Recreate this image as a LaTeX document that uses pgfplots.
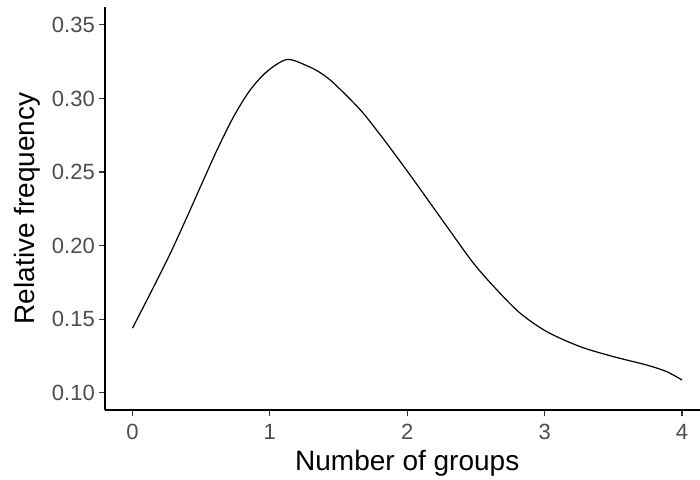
\documentclass[border=0pt]{standalone}
\usepackage{pgfplots}
\pgfplotsset{compat=1.18}
\usepackage{fontspec}
\setmainfont{Liberation Sans}
\definecolor{ticktext}{HTML}{4D4D4D}
\definecolor{tickcol}{HTML}{333333}
\begin{document}
\begin{tikzpicture}
\begin{axis}[
    name=ax, at={(0,0)}, anchor=south west,
    scale only axis,
    width=604.5pt, height=403.3pt,
    xmin=-0.2, xmax=4.2,
    ymin=0.0882, ymax=0.3624,
    axis x line*=bottom, axis y line*=left,
    axis line style={black, line width=1.3pt},
    xtick={0,1,2,3,4},
    ytick={0.10,0.15,0.20,0.25,0.30,0.35},
    tick align=outside, major tick length=6pt,
    tick style={tickcol, line width=1.1pt},
    ticklabel style={font=\fontsize{22}{26}\selectfont, text=ticktext, inner sep=0pt},
    /pgf/number format/assume math mode=true,
    yticklabel style={/pgf/number format/fixed, /pgf/number format/fixed zerofill, /pgf/number format/precision=2, anchor=east, xshift=-4pt},
    xticklabel style={anchor=north, yshift=-8pt},
    xlabel={Number of groups},
    ylabel={Relative frequency},
    xlabel style={font=\fontsize{28}{33}\selectfont, at={(axis description cs:0.5,-0.1488)}, anchor=base},
    ylabel style={font=\fontsize{28}{33}\selectfont, at={(axis description cs:-0.1158,0.5)}, anchor=base, rotate=0},
]
% density curve
\addplot[black, line width=1.2pt, smooth, tension=0.5] coordinates {
    (0,0.1438) (0.155,0.1721) (0.276,0.1948) (0.398,0.2197) (0.507,0.2425)
    (0.616,0.2651) (0.737,0.2878) (0.858,0.3059) (0.98,0.3184) (1.125,0.3265)
    (1.271,0.3222) (1.367,0.3175) (1.464,0.3105) (1.658,0.2923) (1.81,0.2745)
    (1.95,0.257) (2.046,0.2447) (2.289,0.2129) (2.482,0.188) (2.652,0.1699)
    (2.822,0.154) (3.015,0.1415) (3.258,0.1313) (3.5,0.1245) (3.742,0.1188)
    (3.888,0.1143) (4,0.1086)
};
\end{axis}
\pgfresetboundingbox
\path[use as bounding box] (-105pt,-69pt) rectangle (595pt,410pt);
\end{tikzpicture}
\end{document}
